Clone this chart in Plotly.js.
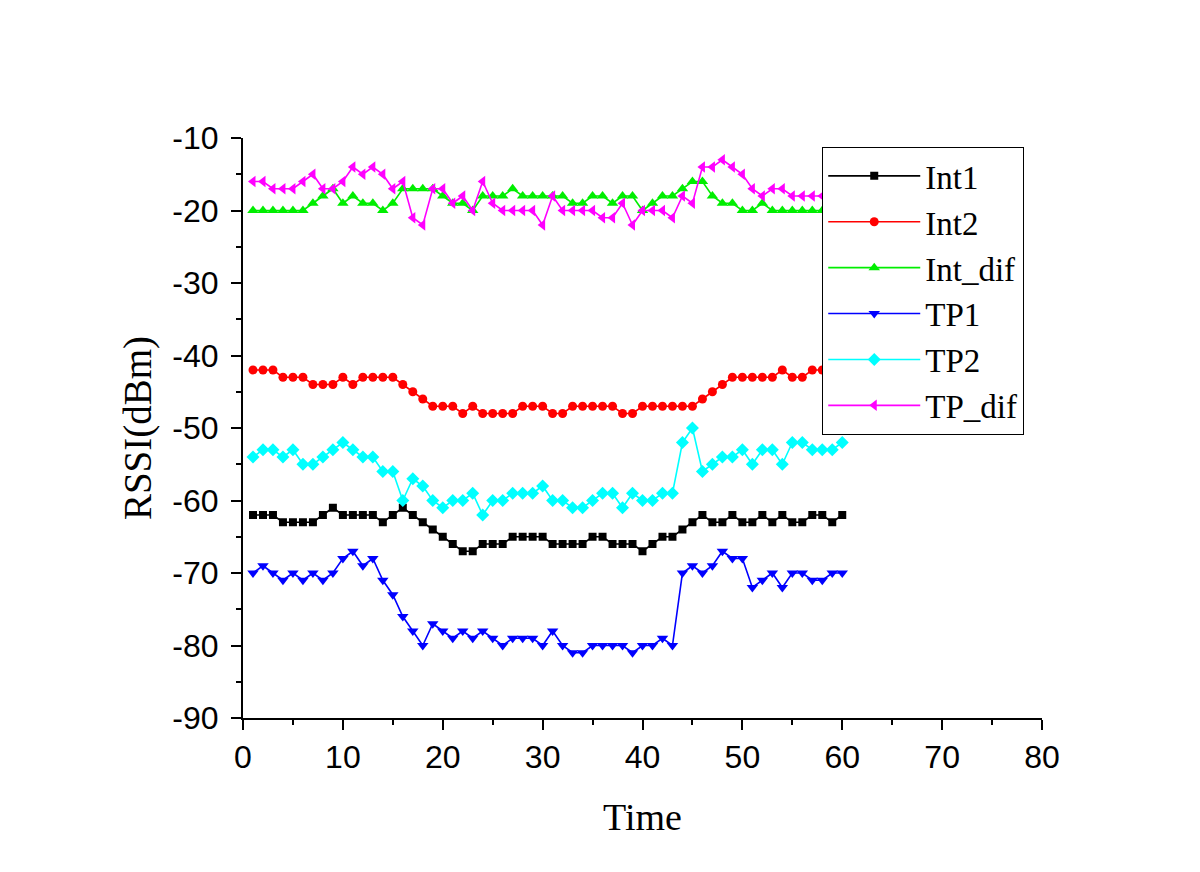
<!DOCTYPE html>
<html>
<head>
<meta charset="utf-8">
<script src="https://cdn.plot.ly/plotly-3.0.1.min.js"></script>
<style>html,body{margin:0;padding:0;background:#fff;}#chart{width:1200px;height:872px;}</style>
</head>
<body>
<div id="chart"></div>
<script>
const time = [];
for (let i = 1; i <= 60; i++) time.push(i);

const int1 = [-62,-62,-62,-63,-63,-63,-63,-62,-61,-62,-62,-62,-62,-63,-62,-61,-62,-63,-64,-65,
  -66,-67,-67,-66,-66,-66,-65,-65,-65,-65,-66,-66,-66,-66,-65,-65,-66,-66,-66,-67,
  -66,-65,-65,-64,-63,-62,-63,-63,-62,-63,-63,-62,-63,-62,-63,-63,-62,-62,-63,-62];
const int2 = [-42,-42,-42,-43,-43,-43,-44,-44,-44,-43,-44,-43,-43,-43,-43,-44,-45,-46,-47,-47,
  -47,-48,-47,-48,-48,-48,-48,-47,-47,-47,-48,-48,-47,-47,-47,-47,-47,-48,-48,-47,
  -47,-47,-47,-47,-47,-46,-45,-44,-43,-43,-43,-43,-43,-42,-43,-43,-42,-42,-42,-42];
const intDif = [-20,-20,-20,-20,-20,-20,-19,-18,-17,-19,-18,-19,-19,-20,-19,-17,-17,-17,-17,-18,
  -19,-19,-20,-18,-18,-18,-17,-18,-18,-18,-18,-18,-19,-19,-18,-18,-19,-18,-18,-20,
  -19,-18,-18,-17,-16,-16,-18,-19,-19,-20,-20,-19,-20,-20,-20,-20,-20,-20,-20,-20];
const tp1 = [-70,-69,-70,-71,-70,-71,-70,-71,-70,-68,-67,-69,-68,-71,-73,-76,-78,-80,-77,-78,
  -79,-78,-79,-78,-79,-80,-79,-79,-79,-80,-78,-80,-81,-81,-80,-80,-80,-80,-81,-80,
  -80,-79,-80,-70,-69,-70,-69,-67,-68,-68,-72,-71,-70,-72,-70,-70,-71,-71,-70,-70];
const tp2 = [-54,-53,-53,-54,-53,-55,-55,-54,-53,-52,-53,-54,-54,-56,-56,-60,-57,-58,-60,-61,
  -60,-60,-59,-62,-60,-60,-59,-59,-59,-58,-60,-60,-61,-61,-60,-59,-59,-61,-59,-60,
  -60,-59,-59,-52,-50,-56,-55,-54,-54,-53,-55,-53,-53,-55,-52,-52,-53,-53,-53,-52];
const tpDif = [-16,-16,-17,-17,-17,-16,-15,-17,-17,-16,-14,-15,-14,-15,-17,-16,-21,-22,-17,-17,
  -19,-18,-20,-16,-19,-20,-20,-20,-20,-22,-18,-20,-20,-20,-20,-21,-21,-19,-22,-20,
  -20,-20,-21,-18,-19,-14,-14,-13,-14,-15,-17,-18,-17,-17,-18,-18,-18,-18,-18,-18];

const seriesNames = ['Int1','Int2','Int_dif','TP1','TP2','TP_dif'];
const yTickVals = [-90,-80,-70,-60,-50,-40,-30,-20,-10];
const yTickText = ['-90','-80','-70','-60','-50','-40','-30','-20','-10'];
const xTickVals = [0,10,20,30,40,50,60,70,80];
const xTickText = ['0','10','20','30','40','50','60','70','80'];

const seriesData = [int1, int2, intDif, tp1, tp2, tpDif];
const colors = ['#000000','#ff0000','#00ee00','#0000ff','#00ffff','#ff00ff'];
const symbols = ['square','circle','triangle-up','triangle-down','diamond','triangle-left'];
const sizes = [8,9,10,10,10,10];

const traces = seriesNames.map((n, i) => ({
  x: time, y: seriesData[i], name: n, type: 'scatter', mode: 'lines+markers',
  line: {color: colors[i], width: 1.6},
  marker: {color: colors[i], symbol: symbols[i], size: sizes[i]}
}));

const serif = 'Liberation Serif, Times New Roman, serif';
const sans = 'Liberation Sans, Arial, sans-serif';

const layout = {
  width: 1200, height: 872,
  paper_bgcolor: '#fff', plot_bgcolor: '#fff',
  margin: {l: 243, r: 158, t: 138, b: 154},
  showlegend: true,
  legend: {
    x: 0.7247, y: 0.985, xanchor: 'left', yanchor: 'top',
    bgcolor: '#fff', bordercolor: '#000', borderwidth: 1.2,
    font: {family: serif, size: 33, color: '#000'},
    itemwidth: 92, tracegroupgap: 0
  },
  xaxis: {
    range: [0, 80], tickmode: 'array', tickvals: xTickVals, ticktext: xTickText,
    showgrid: false, zeroline: false, showline: true, linecolor: '#000', linewidth: 2,
    ticks: 'outside', ticklen: 10, tickwidth: 2, tickcolor: '#000',
    minor: {ticks: 'outside', ticklen: 5, tickwidth: 2, tickcolor: '#000', tickmode: 'linear', tick0: 0, dtick: 5, showgrid: false},
    tickfont: {family: sans, size: 32, color: '#000'},
    title: {text: 'Time', font: {family: serif, size: 38, color: '#000'}, standoff: 29}
  },
  yaxis: {
    range: [-90, -10], tickmode: 'array', tickvals: yTickVals, ticktext: yTickText,
    showgrid: false, zeroline: false, showline: true, linecolor: '#000', linewidth: 2,
    ticks: 'outside', ticklen: 10, tickwidth: 2, tickcolor: '#000',
    ticklabelstandoff: 6,
    minor: {ticks: 'outside', ticklen: 5, tickwidth: 2, tickcolor: '#000', tickmode: 'linear', tick0: -90, dtick: 5, showgrid: false},
    tickfont: {family: sans, size: 32, color: '#000'},
    title: {text: 'RSSI(dBm)', font: {family: serif, size: 39, color: '#000'}, standoff: 9}
  }
};

Plotly.newPlot('chart', traces, layout, {displayModeBar: false, staticPlot: true});
</script>
</body>
</html>
